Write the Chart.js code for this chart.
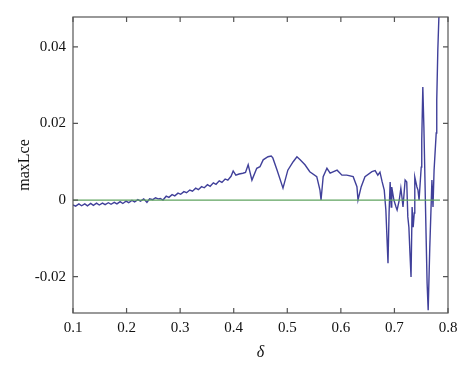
<!DOCTYPE html>
<html>
<head>
<meta charset="utf-8">
<script src="https://cdn.jsdelivr.net/npm/chart.js@4.4.0/dist/chart.umd.min.js"></script>
<style>
  html, body { margin: 0; padding: 0; background: #fff; }
  #wrap { width: 474px; height: 373px; }
</style>
</head>
<body>
<div id="wrap"><canvas id="lce" width="474" height="373"></canvas></div>
<script>
// delta values (x) and maxLce values (y)
var deltaVals = [
  0.100, 0.105, 0.111, 0.116, 0.122, 0.127, 0.133, 0.138, 0.144, 0.149,
  0.155, 0.160, 0.166, 0.171, 0.177, 0.182, 0.188, 0.193, 0.199, 0.204,
  0.210, 0.215, 0.221, 0.226, 0.232, 0.238, 0.243, 0.249, 0.254, 0.259,
  0.263, 0.268, 0.274, 0.279, 0.285, 0.290, 0.296, 0.301, 0.307, 0.312,
  0.318, 0.323, 0.329, 0.334, 0.340, 0.345, 0.351, 0.356, 0.362, 0.367,
  0.373, 0.378, 0.384, 0.389, 0.395, 0.399, 0.404, 0.410, 0.417, 0.422,
  0.427, 0.434, 0.443, 0.449, 0.455, 0.464, 0.470, 0.473, 0.481, 0.492,
  0.501, 0.511, 0.518, 0.524, 0.533, 0.542, 0.555, 0.561, 0.563, 0.567,
  0.574, 0.580, 0.593, 0.602, 0.611, 0.623, 0.630, 0.632, 0.638, 0.645,
  0.658, 0.664, 0.669, 0.673, 0.677, 0.681, 0.684, 0.688, 0.690, 0.692,
  0.694, 0.695, 0.699, 0.703, 0.705, 0.709, 0.712, 0.714, 0.716, 0.720,
  0.723, 0.725, 0.727, 0.729, 0.731, 0.733, 0.735, 0.737, 0.738, 0.742,
  0.744, 0.746, 0.750, 0.751, 0.753, 0.755, 0.759, 0.761, 0.763, 0.766,
  0.770, 0.772, 0.774, 0.778, 0.779, 0.781, 0.783, 0.786
];
var lceVals = [
  -0.0013, -0.0016, -0.0010, -0.0015, -0.0010, -0.0015, -0.0009, -0.0014, -0.0008, -0.0013,
  -0.0008, -0.0012, -0.0007, -0.0011, -0.0006, -0.0010, -0.0004, -0.0009, -0.0003, -0.0007,
  -0.0001, -0.0005, 0.0001, -0.0003, 0.0003, -0.0006, 0.0003, 0.0001, 0.0006, 0.0003,
  0.0004, 0.0000, 0.0010, 0.0007, 0.0014, 0.0011, 0.0018, 0.0015, 0.0022, 0.0019,
  0.0026, 0.0023, 0.0031, 0.0027, 0.0035, 0.0032, 0.0040, 0.0036, 0.0045, 0.0041,
  0.0050, 0.0046, 0.0055, 0.0052, 0.0062, 0.0076, 0.0065, 0.0068, 0.0070, 0.0072,
  0.0092, 0.0052, 0.0083, 0.0087, 0.0105, 0.0113, 0.0115, 0.0110, 0.0078, 0.0031,
  0.0078, 0.0100, 0.0113, 0.0105, 0.0092, 0.0074, 0.0061, 0.0026, 0.0000, 0.0061,
  0.0083, 0.0070, 0.0078, 0.0065, 0.0065, 0.0061, 0.0035, 0.0000, 0.0035, 0.0061,
  0.0074, 0.0077, 0.0065, 0.0073, 0.0048, 0.0026, -0.0026, -0.0165, -0.0034, 0.0047,
  -0.0018, 0.0034, 0.0000, -0.0018, -0.0026, 0.0000, 0.0031, 0.0008, -0.0018, 0.0052,
  0.0047, -0.0044, -0.0071, -0.0139, -0.0201, -0.0018, -0.0071, -0.0034, 0.0060, 0.0034,
  0.0026, 0.0000, 0.0086, 0.0157, 0.0295, 0.0191, -0.0086, -0.0217, -0.0288, -0.0123,
  0.0052, -0.0018, 0.0078, 0.0175, 0.0261, 0.0392, 0.0478, 0.0560
];
var zeroX = [0.1, 0.785];
var zeroY = [0, 0];
var xTicks = [0.1, 0.2, 0.3, 0.4, 0.5, 0.6, 0.7, 0.8];
var yTicks = [-0.02, 0, 0.02, 0.04];

function pairs(xs, ys) {
  return xs.map(function (x, i) { return {x: x, y: ys[i]}; });
}

// box round the plot with inward tick marks on all four sides
var frame = {
  id: 'frame',
  afterDatasetsDraw: function (chart) {
    var ctx = chart.ctx, a = chart.chartArea;
    var sx = chart.scales.x, sy = chart.scales.y;
    ctx.save();
    ctx.strokeStyle = '#555';
    ctx.lineWidth = 1.2;
    ctx.strokeRect(a.left, a.top, a.right - a.left, a.bottom - a.top);
    ctx.beginPath();
    xTicks.forEach(function (v) {
      var px = sx.getPixelForValue(v);
      ctx.moveTo(px, a.bottom); ctx.lineTo(px, a.bottom - 5);
      ctx.moveTo(px, a.top); ctx.lineTo(px, a.top + 5);
    });
    yTicks.forEach(function (v) {
      var py = sy.getPixelForValue(v);
      ctx.moveTo(a.left, py); ctx.lineTo(a.left + 5, py);
      ctx.moveTo(a.right, py); ctx.lineTo(a.right - 5, py);
    });
    ctx.stroke();
    ctx.restore();
  }
};

var serif = 'Liberation Serif, Times New Roman, serif';

new Chart(document.getElementById('lce'), {
  type: 'line',
  data: {
    datasets: [
      {
        data: pairs(zeroX, zeroY),
        borderColor: '#5fa35f',
        borderWidth: 1.2,
        pointRadius: 0
      },
      {
        data: pairs(deltaVals, lceVals),
        borderColor: '#40409a',
        borderWidth: 1.4,
        pointRadius: 0,
        tension: 0
      }
    ]
  },
  options: {
    responsive: false,
    animation: false,
    events: [],
    layout: { padding: { left: 0, right: 26, top: 17, bottom: 0 } },
    plugins: { legend: { display: false }, tooltip: { enabled: false } },
    scales: {
      x: {
        type: 'linear',
        min: 0.1, max: 0.8,
        afterFit: function (s) { s.height = 60; },
        afterBuildTicks: function (s) { s.ticks = xTicks.map(function (v) { return {value: v}; }); },
        grid: { display: false, drawTicks: false },
        border: { display: false },
        ticks: {
          padding: 6,
          color: '#111',
          font: { family: serif, size: 15 },
          callback: function (v) { return v.toFixed(1); }
        },
        title: {
          display: true,
          text: 'δ',
          color: '#111',
          font: { family: serif, size: 16, style: 'italic' },
          padding: { top: 0, bottom: 11 }
        }
      },
      y: {
        min: -0.0295, max: 0.0478,
        afterFit: function (s) { s.width = 73; },
        afterBuildTicks: function (s) { s.ticks = yTicks.map(function (v) { return {value: v}; }); },
        grid: { display: false, drawTicks: false },
        border: { display: false },
        ticks: {
          padding: 7,
          color: '#111',
          font: { family: serif, size: 15 },
          callback: function (v) { return v === 0 ? '0' : v.toFixed(2); }
        },
        title: {
          display: true,
          text: 'maxLce',
          color: '#111',
          font: { family: serif, size: 16 },
          padding: { top: 15, bottom: 0 }
        }
      }
    }
  },
  plugins: [frame]
});
</script>
</body>
</html>
